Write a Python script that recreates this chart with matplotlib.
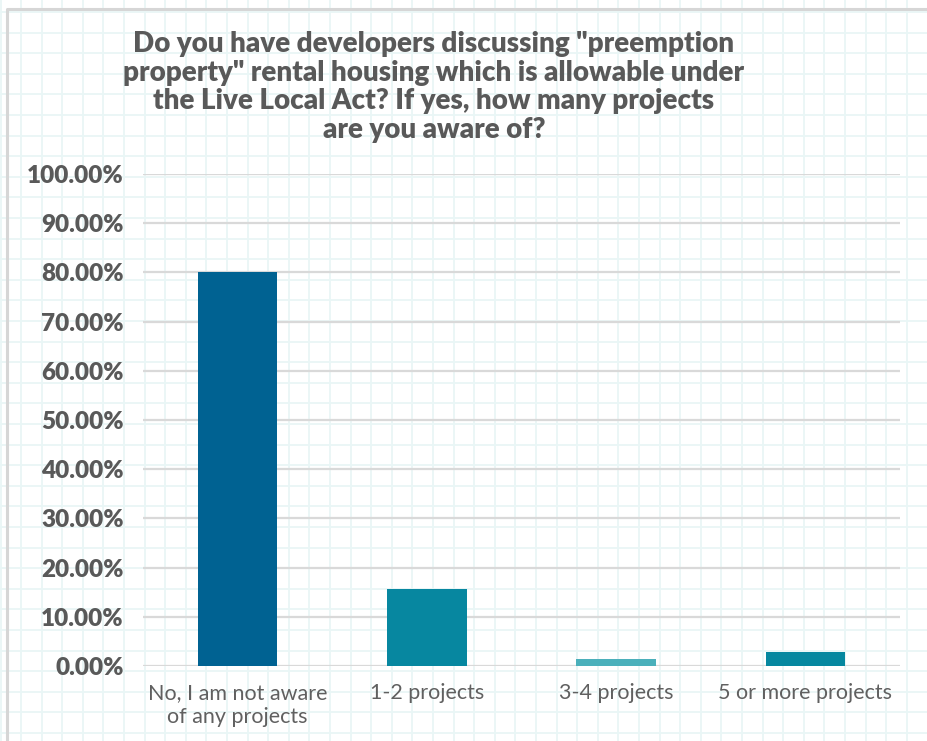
import numpy as np
import matplotlib.pyplot as plt
from matplotlib.ticker import FuncFormatter

# Ответы на вопрос опроса
categories = ['No, I am not aware\nof any projects', '1-2 projects', '3-4 projects', '5 or more projects']
shares = [80.0, 15.6, 1.4, 2.9]
colors = ['#006292', '#0787a0', '#4bb0bb', '#06879f']
title = ('Do you have developers discussing "preemption\n'
         'property" rental housing which is allowable under\n'
         'the Live Local Act? If yes, how many projects\n'
         'are you aware of?')
y_ticks = np.arange(0, 101, 10)

text_color = '#595959'
plt.rcParams['font.family'] = ['Lato', 'DejaVu Sans']

fig = plt.figure(figsize=(9.28, 7.41), dpi=100)

# Фон в клетку
bg = fig.add_axes([0, 0, 1, 1], zorder=0)
bg.set_xlim(0, 928)
bg.set_ylim(741, 0)
bg.set_xticks(np.arange(0.5, 928, 20.6))
bg.set_yticks(np.arange(12, 741, 20.6))
bg.grid(True, color='#e9f6f6', linewidth=1.3)
bg.tick_params(length=0, labelbottom=False, labelleft=False)
for s in bg.spines.values():
    s.set_visible(False)
# рамка
bg.plot([7.5, 7.5, 928], [741, 9, 9], color='#d6d6d6', linewidth=2.2)

# Основной график
ax = fig.add_axes([143 / 928, 1 - 666 / 741, (900 - 143) / 928, (666 - 174) / 741], zorder=1)
ax.patch.set_alpha(0)
x = np.arange(len(categories))
ax.bar(x, shares, width=0.42, color=colors, zorder=3)
ax.set_xlim(-0.5, len(categories) - 0.5)
ax.set_ylim(0, 100)
ax.set_yticks(y_ticks)
ax.yaxis.set_major_formatter(FuncFormatter(lambda v, p: f'{v:.2f}%'))
ax.set_xticks(x)
ax.set_xticklabels(categories, fontsize=15.5, color='#606060', fontweight='normal', linespacing=1.3)
for lbl in ax.get_yticklabels():
    lbl.set_fontweight('heavy')
    lbl.set_fontsize(17.5)
    lbl.set_color(text_color)
ax.tick_params(axis='y', length=0, pad=14)
ax.tick_params(axis='x', length=0, pad=12)
ax.grid(axis='y', color='#d9d9d9', linewidth=1.6, zorder=0)
for s in ax.spines.values():
    s.set_visible(False)

fig.text(434 / 928, 1 - 31 / 741, title, ha='center', va='top', fontsize=20,
         fontweight='heavy', color=text_color, linespacing=1.13)

fig.savefig('out.png', dpi=100)
